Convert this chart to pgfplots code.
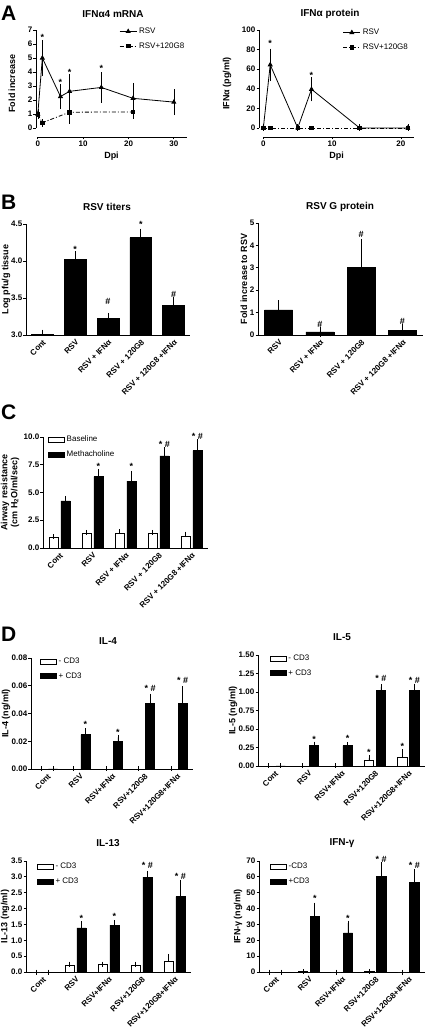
\documentclass[border=0pt]{standalone}
\usepackage{pgfplots}
\pgfplotsset{compat=1.18}
\usepackage{fontspec}
\setmainfont{Liberation Sans}
\newcommand{\tf}{\fontsize{8}{9}\selectfont\bfseries}
\tikzset{ann/.style={font=\fontsize{9}{10}\selectfont\bfseries, inner sep=0pt}}
\pgfplotsset{
  prism/.style={
    scale only axis, anchor=south west, clip=false,
    axis x line*=bottom, axis y line*=left,
    axis line style={black, line width=0.8pt, -},
    every tick/.style={black, line width=0.8pt},
    tick align=outside, tick pos=left, major tick length=2.5pt,
    tick label style={font=\tf},
    yticklabel style={inner sep=1pt},
    xticklabel style={inner sep=1.5pt},
    scaled y ticks=false,
    /pgf/number format/assume math mode=true,
    label style={font=\fontsize{9}{10}\selectfont\bfseries},
    legend cell align=left,
    legend style={draw=none, fill=none, font=\fontsize{8}{9}\selectfont, inner sep=0pt, row sep=3.5pt},
  },
  ylab/.style={every axis y label/.style={at={([xshift=-#1]axis description cs:0,0.5)}, rotate=90, anchor=center, align=center, font=\fontsize{9}{10}\selectfont\bfseries}},
  barprism/.style={prism, ybar, xmin=-0.5, xtick={0,...,4}, xtick style={draw=none},
    xticklabel style={rotate=45, anchor=north east, inner sep=1pt, font=\tf},
    ymin=0},
  fmt/.style={yticklabel style={/pgf/number format/fixed, /pgf/number format/fixed zerofill, /pgf/number format/precision=#1}},
  boxlegend/.style={legend image code/.code={\draw[##1, line width=0.6pt] (0pt,-2.5pt) rectangle (16pt,2.5pt);}},
  ebar/.style={error bars/y dir=plus, error bars/y explicit,
    error bars/error mark options={black, line width=0.6pt, mark size=#1},
    error bars/error bar style={black, line width=0.6pt}},
  ebar/.default=3pt,
  wbar/.style={fill=white, draw=black, line width=0.6pt, bar width=0.28, bar shift=-0.18, boxlegend},
  kbar/.style={fill=black, draw=black, line width=0.6pt, bar width=0.28, bar shift=0.18, boxlegend},
}
\begin{document}
\begin{tikzpicture}
\path[use as bounding box] (0pt,0pt) rectangle (425pt,1030pt);

% ---------------- A left
\begin{axis}[prism, at={(36pt,893pt)}, width=151pt, height=107pt,
  xmin=-0.4, xmax=32.9, ymin=-0.64, ymax=7,
  xtick={0,10,20,30}, ytick={0,1,...,7},
  y axis line style={shorten <=8.96pt}, x axis line style={shorten <=1.7pt},
  xlabel={Dpi}, ylabel={Fold increase}, ylab=24pt,
  legend style={at={(0.55,1.04)}, anchor=north west}]
\addplot[black, line width=0.8pt, mark=triangle*, mark size=2.2pt,
  error bars/y dir=both, error bars/y explicit,
  error bars/error mark options={black, line width=0.6pt, mark size=3.5pt},
  error bars/error bar style={black, line width=0.6pt}]
  coordinates {(0,1.0)+-(0,0.08) (1,5.0)+-(0,1.0) (5,2.25)+-(0,0.65) (7,2.62)+-(0,1.0) (14,2.9)+-(0,0.85) (21,2.12)+-(0,0.85) (30,1.85)+-(0,0.68)};
\addlegendentry{RSV}
\addplot[black, line width=0.8pt, dash pattern=on 4pt off 2pt on 1pt off 2pt, mark=square*, mark size=1.8pt, mark options={solid},
  error bars/y dir=both, error bars/y explicit,
  error bars/error mark options={black, line width=0.6pt, mark size=3.5pt, solid},
  error bars/error bar style={black, line width=0.6pt, solid}]
  coordinates {(0,0.97)+-(0,0.05) (1,0.38)+-(0,0.03) (7,1.13)+-(0,0.57) (21,1.15)+-(0,0.25)};
\addlegendentry{RSV+120G8}
\node[ann] at (axis cs:1,6.45) {*};
\node[ann] at (axis cs:5,3.25) {*};
\node[ann] at (axis cs:7,4.0) {*};
\node[ann] at (axis cs:14,4.25) {*};
\end{axis}

% ---------------- A right
\begin{axis}[prism, at={(259pt,893pt)}, width=155pt, height=107pt,
  xmin=-0.63, xmax=21.9, ymin=-9.2, ymax=100,
  xtick={0,10,20}, ytick={0,20,...,100},
  y axis line style={shorten <=9pt}, x axis line style={shorten <=4.3pt},
  xlabel={Dpi}, ylabel={IFNα (pg/ml)}, ylab=32pt,
  legend style={at={(0.54,1.03)}, anchor=north west}]
\addplot[black, line width=0.8pt, mark=triangle*, mark size=2.2pt,
  error bars/y dir=both, error bars/y explicit,
  error bars/error mark options={black, line width=0.6pt, mark size=3.5pt},
  error bars/error bar style={black, line width=0.6pt}]
  coordinates {(0,0)+-(0,0) (1,64.5)+-(0,13) (5,0)+-(0,0) (7,39.5)+-(0,8.7) (14,0)+-(0,0) (21,0)+-(0,0)};
\addlegendentry{RSV}
\addplot[black, line width=0.8pt, dash pattern=on 4pt off 2pt on 1pt off 2pt, mark=square*, mark size=1.8pt, mark options={solid}]
  coordinates {(0,0) (1,0) (5,0) (7,0) (14,0) (21,0)};
\addlegendentry{RSV+120G8}
\node[ann] at (axis cs:1,86) {*};
\node[ann] at (axis cs:7,54) {*};
\end{axis}

% ---------------- B left
\begin{axis}[barprism, at={(26pt,695pt)}, width=164pt, height=111pt,
  clip=true, clip mode=individual,
  xmax=4.5, ymin=3, ymax=4.5, ytick={3,3.5,4,4.5}, fmt=1,
  xticklabels={Cont, RSV, RSV + IFNα, RSV + 120G8, RSV + 120G8 +IFNα},
  ylabel={Log pfu/g tissue}, ylab=20pt]
\addplot[fill=black, draw=black, line width=0.6pt, bar width=0.67, bar shift=0, ebar=5pt]
  coordinates {(0,3.005)+-(0,0) (1,4.02)+-(0,0.045) (2,3.225)+-(0,0.005) (3,4.315)+-(0,0.055) (4,3.395)+-(0,0.055)};
\node[ann] at (axis cs:1,4.16) {*};
\node[ann] at (axis cs:2,3.45) {\#};
\node[ann] at (axis cs:3,4.49) {*};
\node[ann] at (axis cs:4,3.55) {\#};
\end{axis}

% ---------------- B right
\begin{axis}[barprism, at={(258pt,695pt)}, width=165pt, height=112pt,
  xmin=-0.5, xmax=3.5, ymin=0, ymax=5, ytick={0,1,...,5}, xtick={0,...,3},
  xticklabels={RSV, RSV + IFNα, RSV + 120G8, RSV + 120G8 +IFNα},
  ylabel={Fold increase to RSV}, ylab=14pt]
\addplot[fill=black, draw=black, line width=0.6pt, bar width=0.68, bar shift=0, ebar=5pt]
  coordinates {(0,1.12)+-(0,0.2) (1,0.14)+-(0,0.01) (2,3.02)+-(0,1.05) (3,0.2)+-(0,0.05)};
\node[ann] at (axis cs:1,0.49) {\#};
\node[ann] at (axis cs:2,4.48) {\#};
\node[ann] at (axis cs:3,0.6) {\#};
\end{axis}

% ---------------- C
\begin{axis}[barprism, at={(43pt,482pt)}, width=165pt, height=111pt,
  xmax=4.5, ymax=10, ytick={0,2.5,5,7.5,10}, fmt=1,
  xticklabels={Cont, RSV, RSV + IFNα, RSV + 120G8, RSV + 120G8 +IFNα},
  ylabel={Airway resistance\\(cm H\textsubscript{2}O/ml/sec)}, ylab=33pt,
  legend style={at={(0.03,1.03)}, anchor=north west}]
\addplot[wbar, ebar=2.5pt]
  coordinates {(0,0.96)+-(0,0.05) (1,1.28)+-(0,0.12) (2,1.28)+-(0,0.18) (3,1.33)+-(0,0.08) (4,1.07)+-(0,0.17)};
\addlegendentry{Baseline}
\addplot[kbar, ebar=2.5pt]
  coordinates {(0,4.24)+-(0,0.24) (1,6.43)+-(0,0.43) (2,6.03)+-(0,0.7) (3,8.3)+-(0,0.54) (4,8.78)+-(0,0.8)};
\addlegendentry{Methacholine}
\node[ann] at (axis cs:1.18,7.37) {*};
\node[ann] at (axis cs:2.18,7.34) {*};
\node[ann] at (axis cs:3.18,9.37) {* \#};
\node[ann] at (axis cs:4.18,10.06) {* \#};
\end{axis}

% ---------------- D IL-4
\begin{axis}[barprism, at={(31pt,261pt)}, width=162pt, height=111pt,
  xmax=4.5, ymax=0.08, ytick={0,0.02,0.04,0.06,0.08}, fmt=2,
  xticklabels={Cont, RSV, RSV+IFNα, RSV+120G8, RSV+120G8+IFNα},
  ylabel={IL-4 (ng/ml)}, ylab=25pt,
  legend style={at={(0.055,1.02)}, anchor=north west}]
\addplot[wbar, ebar=2.5pt]
  coordinates {(0,0)+-(0,0) (1,0)+-(0,0) (2,0)+-(0,0) (3,0)+-(0,0) (4,0)+-(0,0)};
\addlegendentry{- CD3}
\addplot[kbar, ebar=2.5pt]
  coordinates {(0,0)+-(0,0) (1,0.0247)+-(0,0.0027) (2,0.0199)+-(0,0.0029) (3,0.0471)+-(0,0.0055) (4,0.0473)+-(0,0.0106)};
\addlegendentry{+ CD3}
\node[ann] at (axis cs:1.18,0.032) {*};
\node[ann] at (axis cs:2.18,0.0267) {*};
\node[ann] at (axis cs:3.18,0.0584) {* \#};
\node[ann] at (axis cs:4.18,0.0637) {* \#};
\end{axis}

% ---------------- D IL-5
\begin{axis}[barprism, at={(258pt,264pt)}, width=167pt, height=111pt,
  xmax=4.5, ymax=1.5, ytick={0,0.25,0.5,0.75,1,1.25,1.5}, fmt=2,
  xticklabels={Cont, RSV, RSV+IFNα, RSV+120G8, RSV+120G8+IFNα},
  ylabel={IL-5 (ng/ml)}, ylab=25pt,
  legend style={at={(0.07,1.02)}, anchor=north west}]
\addplot[wbar, ebar=2.5pt]
  coordinates {(0,0)+-(0,0) (1,0)+-(0,0) (2,0)+-(0,0) (3,0.081)+-(0,0.03) (4,0.12)+-(0,0.07)};
\addlegendentry{- CD3}
\addplot[kbar, ebar=2.5pt]
  coordinates {(0,0)+-(0,0) (1,0.275)+-(0,0.02) (2,0.275)+-(0,0.015) (3,1.018)+-(0,0.05) (4,1.018)+-(0,0.06)};
\addlegendentry{+ CD3}
\node[ann] at (axis cs:1.18,0.36) {*};
\node[ann] at (axis cs:2.18,0.37) {*};
\node[ann] at (axis cs:2.82,0.18) {*};
\node[ann] at (axis cs:3.18,1.18) {* \#};
\node[ann] at (axis cs:3.82,0.26) {*};
\node[ann] at (axis cs:4.18,1.15) {* \#};
\end{axis}

% ---------------- D IL-13
\begin{axis}[barprism, at={(26pt,58pt)}, width=165pt, height=111pt,
  xmax=4.5, ymax=3.5, ytick={0,0.5,1,1.5,2,2.5,3,3.5}, fmt=1,
  xticklabels={Cont, RSV, RSV+IFNα, RSV+120G8, RSV+120G8+IFNα},
  ylabel={IL-13 (ng/ml)}, ylab=21pt,
  legend style={at={(0.065,1.0)}, anchor=north west}]
\addplot[wbar, ebar=2.5pt]
  coordinates {(0,0)+-(0,0) (1,0.21)+-(0,0.04) (2,0.23)+-(0,0.02) (3,0.22)+-(0,0.03) (4,0.335)+-(0,0.155)};
\addlegendentry{- CD3}
\addplot[kbar, ebar=2.5pt]
  coordinates {(0,0)+-(0,0) (1,1.39)+-(0,0.13) (2,1.48)+-(0,0.08) (3,2.99)+-(0,0.12) (4,2.38)+-(0,0.45)};
\addlegendentry{+ CD3}
\node[ann] at (axis cs:1.18,1.68) {*};
\node[ann] at (axis cs:2.18,1.75) {*};
\node[ann] at (axis cs:3.18,3.35) {* \#};
\node[ann] at (axis cs:4.18,3.03) {* \#};
\end{axis}

% ---------------- D IFN-gamma
\begin{axis}[barprism, at={(259pt,58pt)}, width=166pt, height=111pt,
  xmax=4.5, ymax=70, ytick={0,10,...,70},
  xticklabels={Cont, RSV, RSV+IFNα, RSV+120G8, RSV+120G8+IFNα},
  ylabel={IFN-γ (ng/ml)}, ylab=21pt,
  legend style={at={(0.065,1.0)}, anchor=north west}]
\addplot[wbar, ebar=2.5pt]
  coordinates {(0,0)+-(0,0) (1,0.2)+-(0,0) (2,0)+-(0,0) (3,0.4)+-(0,0) (4,0)+-(0,0)};
\addlegendentry{-CD3}
\addplot[kbar, ebar=2.5pt]
  coordinates {(0,0)+-(0,0) (1,35)+-(0,7.1) (2,24.7)+-(0,6.1) (3,60.4)+-(0,7.7) (4,56.6)+-(0,6.7)};
\addlegendentry{+CD3}
\node[ann] at (axis cs:1.18,46.5) {*};
\node[ann] at (axis cs:2.18,34) {*};
\node[ann] at (axis cs:3.18,71) {* \#};
\node[ann] at (axis cs:4.18,67.5) {* \#};
\end{axis}

% ---------------- letters and titles
\begin{scope}[every node/.style={inner sep=0pt}]
\node[font=\fontsize{21}{21}\selectfont\bfseries, anchor=north west] at (1pt,1024pt) {A};
\node[font=\fontsize{21}{21}\selectfont\bfseries, anchor=north west] at (1pt,835pt) {B};
\node[font=\fontsize{21}{21}\selectfont\bfseries, anchor=north west] at (1pt,625pt) {C};
\node[font=\fontsize{21}{21}\selectfont\bfseries, anchor=north west] at (1pt,403pt) {D};
\node[font=\fontsize{10}{11}\selectfont\bfseries] at (113pt,1016pt) {IFNα4 mRNA};
\node[font=\fontsize{10}{11}\selectfont\bfseries] at (330pt,1016pt) {IFNα protein};
\node[font=\fontsize{10}{11}\selectfont\bfseries] at (107pt,823pt) {RSV titers};
\node[font=\fontsize{10}{11}\selectfont\bfseries] at (340pt,823pt) {RSV G protein};
\node[font=\fontsize{10}{11}\selectfont\bfseries] at (108pt,389pt) {IL-4};
\node[font=\fontsize{10}{11}\selectfont\bfseries] at (342pt,393pt) {IL-5};
\node[font=\fontsize{10}{11}\selectfont\bfseries] at (108pt,187pt) {IL-13};
\node[font=\fontsize{10}{11}\selectfont\bfseries] at (342pt,187pt) {IFN-γ};
\end{scope}
\end{tikzpicture}
\end{document}
